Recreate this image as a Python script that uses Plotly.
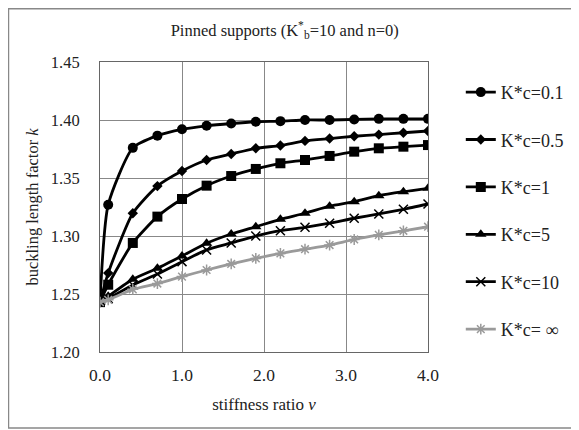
import plotly.graph_objects as go

nu = [0.0, 0.1, 0.4, 0.7, 1.0, 1.3, 1.6, 1.9, 2.2, 2.5, 2.8, 3.1, 3.4, 3.7, 4.0]

k_c01 = [1.243, 1.327, 1.376, 1.3865, 1.392, 1.395, 1.397, 1.3985, 1.399, 1.400, 1.400, 1.4005, 1.401, 1.401, 1.401]
k_c05 = [1.243, 1.268, 1.3196, 1.343, 1.356, 1.3655, 1.3707, 1.3756, 1.378, 1.382, 1.384, 1.386, 1.3874, 1.389, 1.3905]
k_c1 = [1.243, 1.258, 1.294, 1.3167, 1.3319, 1.3434, 1.3517, 1.3578, 1.3627, 1.3655, 1.369, 1.3727, 1.3756, 1.377, 1.3784]
k_c5 = [1.243, 1.248, 1.2627, 1.2722, 1.2828, 1.2937, 1.3017, 1.308, 1.3144, 1.3196, 1.3257, 1.3296, 1.3348, 1.3382, 1.3411]
k_c10 = [1.243, 1.246, 1.2578, 1.2672, 1.2779, 1.288, 1.294, 1.300, 1.3046, 1.3075, 1.311, 1.3153, 1.319, 1.323, 1.3276]
k_cinf = [1.243, 1.245, 1.254, 1.259, 1.265, 1.2707, 1.2759, 1.2807, 1.285, 1.2886, 1.2922, 1.297, 1.301, 1.3045, 1.308]

names = ["K*c=0.1", "K*c=0.5", "K*c=1", "K*c=5", "K*c=10", "K*c= \u221e"]
series = [k_c01, k_c05, k_c1, k_c5, k_c10, k_cinf]

x_ticks = [0, 1, 2, 3, 4]
x_tick_labels = ["0.0", "1.0", "2.0", "3.0", "4.0"]
y_ticks = [1.20, 1.25, 1.30, 1.35, 1.40, 1.45]
y_tick_labels = ["1.20", "1.25", "1.30", "1.35", "1.40", "1.45"]

styles = [
    dict(symbol="circle", size=10, color="black", lw=2.8, mline=None),
    dict(symbol="diamond", size=8, color="black", lw=2.8, mline=None),
    dict(symbol="square", size=10, color="black", lw=2.8, mline=None),
    dict(symbol="triangle-up", size=10, color="black", lw=2.8, mline=None),
    dict(symbol="x-thin-open", size=9, color="black", lw=2.8, mline=1.5),
    dict(symbol="asterisk-open", size=9, color="#9a9a9a", lw=2.8, mline=1.5),
]

fig = go.Figure()
for i, (nm, ys, st) in enumerate(zip(names, series, styles)):
    marker = dict(symbol=st["symbol"], size=st["size"], color=st["color"])
    if st["mline"]:
        marker["line"] = dict(color=st["color"], width=st["mline"])
    fig.add_trace(go.Scatter(
        x=nu, y=ys, name=nm, mode="lines+markers",
        line=dict(color=st["color"], width=st["lw"], shape="spline", smoothing=0.6),
        marker=marker, legendgroup=f"g{i}",
    ))

ff = "Liberation Serif, Times New Roman, serif"

fig.update_layout(
    width=579, height=430,
    margin=dict(l=92, r=159, t=54, b=86),
    paper_bgcolor="white", plot_bgcolor="white",
    font=dict(family=ff, size=16, color="#222"),
    title=dict(text="Pinned supports (K<sup>*</sup><sub>b</sub>=10 and n=0)",
               x=0.478, xanchor="center", y=0.949, yanchor="middle",
               font=dict(size=16.5, family=ff, color="#222")),
    showlegend=True,
    legend=dict(x=1.1, xanchor="left", y=0.959, yanchor="top",
                tracegroupgap=21, font=dict(size=18, family=ff, color="#222"),
                bgcolor="rgba(0,0,0,0)", itemwidth=30),
    xaxis=dict(range=[0, 4], tickvals=x_ticks, ticktext=x_tick_labels,
               showgrid=True, gridcolor="#888888", gridwidth=1,
               showline=True, linecolor="#666", linewidth=1, mirror=True,
               ticks="", zeroline=False, ticklabelstandoff=7,
               title=dict(text="stiffness ratio <i>\u03bd</i>", font=dict(size=17, family=ff), standoff=14),
               tickfont=dict(size=17.5, family=ff)),
    yaxis=dict(range=[1.20, 1.45], tickvals=y_ticks, ticktext=y_tick_labels,
               showgrid=True, gridcolor="#888888", gridwidth=1,
               showline=True, linecolor="#666", linewidth=1, mirror=True,
               ticks="", zeroline=False, ticklabelstandoff=16,
               title=dict(text="buckling length factor <i>k</i>", font=dict(size=16.5, family=ff), standoff=8),
               tickfont=dict(size=16.5, family=ff)),
    shapes=[dict(type="rect", xref="paper", yref="paper",
                 x0=-0.279, x1=1.5, y0=-0.262, y1=1.184,
                 line=dict(color="#888", width=1.5), layer="above")],
)

fig.write_html("out.html")
